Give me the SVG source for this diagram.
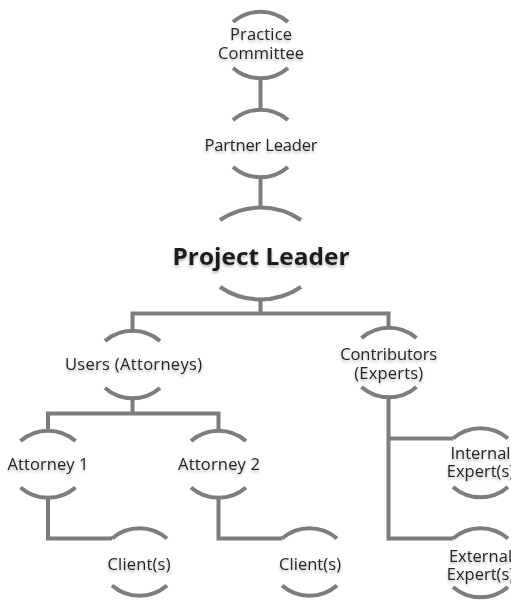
<svg xmlns="http://www.w3.org/2000/svg" width="511" height="601" viewBox="0 0 511 601">
<style>
.arc{fill:none;stroke:#7d7d7d;stroke-width:4;stroke-linecap:butt}
.con{fill:none;stroke:#7d7d7d;stroke-width:4;stroke-linejoin:miter}
.t{font-family:"Open Sans","Noto Sans","Liberation Sans",sans-serif;font-size:16.5px;fill:#262626;text-anchor:middle;filter:url(#sh)}
.big{font-size:24px;font-weight:700;fill:#1e1e1e}
</style>
<defs>
<filter id="sh" x="-20%" y="-40%" width="140%" height="190%">
<feGaussianBlur in="SourceAlpha" stdDeviation="1.6" result="b"/>
<feOffset in="b" dx="0" dy="2" result="o"/>
<feComponentTransfer in="o" result="s"><feFuncA type="linear" slope="0.3"/></feComponentTransfer>
<feMerge><feMergeNode in="s"/><feMergeNode in="SourceGraphic"/></feMerge>
</filter>
</defs>
<g id="connectors">
<path class="con" d="M260.5 79 V110"/>
<path class="con" d="M260.5 178.5 V207.5"/>
<path class="con" d="M260.5 298.5 V313.5"/>
<path class="con" d="M132.5 332.5 V313.5 H388.5 V327.5"/>
<path class="con" d="M132.5 399 V413.5"/>
<path class="con" d="M48 432 V413.5 H218.5 V432"/>
<path class="con" d="M48 498 V538.5 H112"/>
<path class="con" d="M218.5 498 V538.5 H282"/>
<path class="con" d="M388.5 398 V538.5 H453"/>
<path class="con" d="M388.5 438.5 H453"/>
</g>
<g id="practice-committee">
<path class="arc" d="M233 22 A42 42 0 0 1 288 22"/>
<path class="arc" d="M233 68 A42 42 0 0 0 288 68"/>
<text class="t" x="261" y="40" textLength="62">Practice</text>
<text class="t" x="261" y="59" textLength="86">Committee</text>
</g>
<g id="partner-leader">
<path class="arc" d="M233 120 A42 42 0 0 1 288 120"/>
<path class="arc" d="M233 167 A42 42 0 0 0 288 167"/>
<text class="t" x="261" y="150.5" textLength="113">Partner Leader</text>
</g>
<g id="project-leader">
<path class="arc" d="M220 220 A72 72 0 0 1 301 220"/>
<path class="arc" d="M220 287 A72 72 0 0 0 301 287"/>
<text class="t big" x="261" y="265" textLength="177" lengthAdjust="spacingAndGlyphs">Project Leader</text>
</g>
<g id="users">
<path class="arc" d="M105 341 A42 42 0 0 1 160 341"/>
<path class="arc" d="M105 388 A42 42 0 0 0 160 388"/>
<text class="t" x="133.5" y="370" textLength="137">Users (Attorneys)</text>
</g>
<g id="contributors">
<path class="arc" d="M361.5 338 A42 42 0 0 1 416.5 338"/>
<path class="arc" d="M361.5 387 A42 42 0 0 0 416.5 387"/>
<text class="t" x="388.7" y="359.5" textLength="97">Contributors</text>
<text class="t" x="388.7" y="378.5" textLength="69">(Experts)</text>
</g>
<g id="attorney-1">
<path class="arc" d="M20.5 441 A42 42 0 0 1 75.5 441"/>
<path class="arc" d="M20.5 487.5 A42 42 0 0 0 75.5 487.5"/>
<text class="t" x="48" y="470" textLength="81">Attorney 1</text>
</g>
<g id="attorney-2">
<path class="arc" d="M191 441 A42 42 0 0 1 246 441"/>
<path class="arc" d="M191 487.5 A42 42 0 0 0 246 487.5"/>
<text class="t" x="219" y="470" textLength="82">Attorney 2</text>
</g>
<g id="client-1">
<path class="arc" d="M112 538.5 A42 42 0 0 1 167 538.5"/>
<path class="arc" d="M112 585.5 A42 42 0 0 0 167 585.5"/>
<text class="t" x="139" y="570" textLength="63">Client(s)</text>
</g>
<g id="client-2">
<path class="arc" d="M282 538.5 A42 42 0 0 1 337 538.5"/>
<path class="arc" d="M282 585.5 A42 42 0 0 0 337 585.5"/>
<text class="t" x="310" y="570" textLength="62">Client(s)</text>
</g>
<g id="internal-experts">
<path class="arc" d="M453 438.5 A42 42 0 0 1 508 438.5"/>
<path class="arc" d="M453 487 A42 42 0 0 0 508 487"/>
<text class="t" x="480.5" y="458.5">Internal</text>
<text class="t" x="480.5" y="477">Expert(s)</text>
</g>
<g id="external-experts">
<path class="arc" d="M453 538.5 A42 42 0 0 1 508 538.5"/>
<path class="arc" d="M453 587 A42 42 0 0 0 508 587"/>
<text class="t" x="480.5" y="561.5">External</text>
<text class="t" x="480.5" y="580">Expert(s)</text>
</g>
</svg>
